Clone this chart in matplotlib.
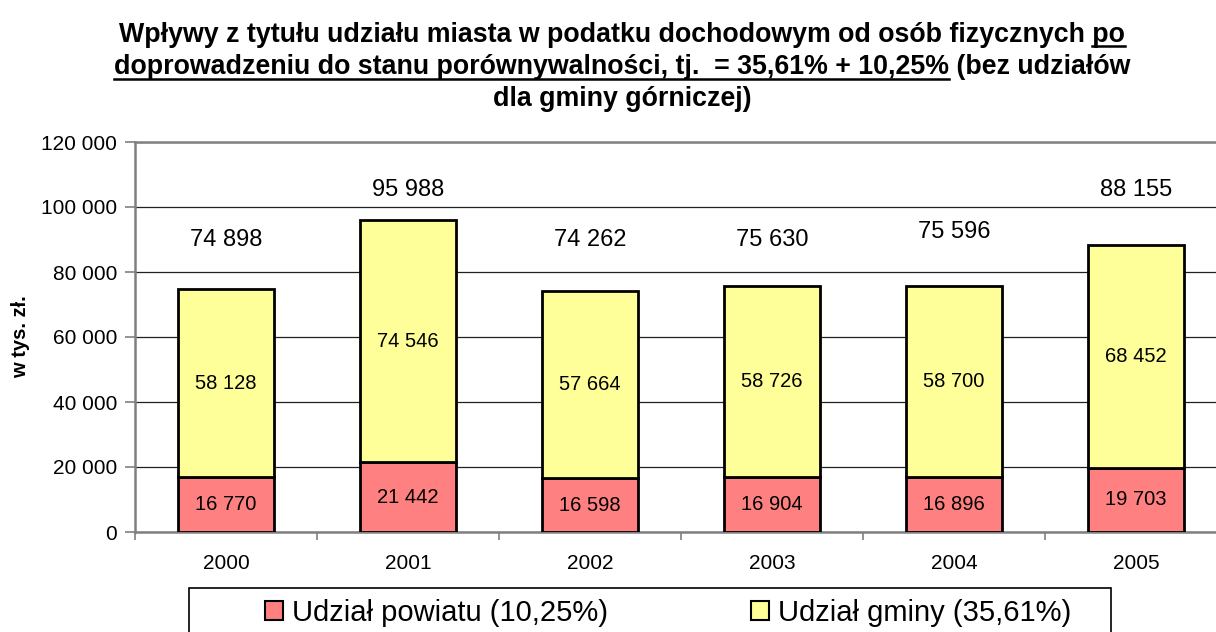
import matplotlib
matplotlib.use("Agg")
import matplotlib.pyplot as plt
from matplotlib.lines import Line2D
from matplotlib.patches import Rectangle, Patch
import numpy as np

plt.rcParams['font.family'] = ['Liberation Sans', 'DejaVu Sans']

years = ['2000', '2001', '2002', '2003', '2004', '2005']
powiat = [16770, 21442, 16598, 16904, 16896, 19703]
gmina = [58128, 74546, 57664, 58726, 58700, 68452]
totals = [74898, 95988, 74262, 75630, 75596, 88155]
# vertical placement of the total labels (data units), as in the original
total_label_y = [89800, 105300, 89800, 89800, 92300, 105300]

label_powiat = 'Udział powiatu (10,25%)'
label_gmina = 'Udział gminy (35,61%)'

title_lines = [
    [("Wpływy z tytułu udziału miasta w podatku dochodowym od osób fizycznych ", False), ("po", True)],
    [("doprowadzeniu do stanu porównywalności, tj.  = 35,61% + 10,25%", True), (" (bez udziałów", False)],
    [("dla gminy górniczej)", False)],
]

def fmt(v):
    return f"{v:,}".replace(",", " ")

W, H = 1216, 632
fig = plt.figure(figsize=(W / 100, H / 100), dpi=100)
ax = fig.add_axes([135 / W, 1 - 532 / H, (1227 - 135) / W, (532 - 142) / H])

x = np.arange(len(years))
bw = 0.53
c_pow = '#FF8080'
c_gm = '#FFFF99'
ax.bar(x, powiat, bw, color=c_pow, edgecolor='black', linewidth=2, zorder=3)
ax.bar(x, gmina, bw, bottom=powiat, color=c_gm, edgecolor='black', linewidth=2, zorder=3)

for i in range(len(years)):
    ax.text(x[i], powiat[i] / 2, fmt(powiat[i]), ha='center', va='center', fontsize=14.5, zorder=4)
    ax.text(x[i], powiat[i] + gmina[i] / 2, fmt(gmina[i]), ha='center', va='center', fontsize=14.5, zorder=4)
    ax.text(x[i], total_label_y[i], fmt(totals[i]), ha='center', va='center', fontsize=17, zorder=4)

ax.set_xlim(-0.5, len(years) - 0.5)
ax.set_ylim(0, 120000)
yt = np.arange(0, 120001, 20000)
ax.set_yticks(yt)
ax.set_yticklabels([fmt(v) for v in yt], fontsize=15)
ax.set_xticks(x)
ax.set_xticklabels(years, fontsize=15)
ax.set_xticks(np.arange(-0.5, len(years) + 0.5, 1), minor=True)
ax.tick_params(axis='x', which='major', length=0, pad=16)
ax.tick_params(axis='x', which='minor', length=6, width=1.2, color='#808080', direction='out')
ax.tick_params(axis='y', length=7, width=1.2, color='#808080', pad=6)

ax.yaxis.grid(True, color='#202020', linewidth=0.9, zorder=0)
ax.set_axisbelow(True)
for s in ['left', 'bottom', 'top']:
    ax.spines[s].set_color('#808080')
    ax.spines[s].set_linewidth(1.8)
ax.spines['right'].set_visible(False)

fig.text(21 / W, 1 - 337 / H, 'w tys. zł.', rotation=90, ha='center', va='center',
         fontsize=14.5, fontweight='bold')

# Legend box (partly cut at figure bottom)
fig.patches.append(Rectangle((189 / W, 0 - 0.05), (1111 - 189) / W, (H - 588) / H + 0.05,
                             transform=fig.transFigure, facecolor='white', edgecolor='black',
                             linewidth=1.2, zorder=1))
handles = [Patch(facecolor=c_pow, edgecolor='black', linewidth=1.5),
           Patch(facecolor=c_gm, edgecolor='black', linewidth=1.5)]
fig.legend(handles, [label_powiat, label_gmina], loc='center left', ncol=2,
           bbox_to_anchor=(265 / W, 1 - 613 / H), frameon=False, fontsize=21,
           handlelength=0.62, handleheight=0.62, handletextpad=0.3,
           columnspacing=4.9, borderpad=0, borderaxespad=0)

# Title with partial underline
renderer = fig.canvas.get_renderer()
cx = 622 / W
baselines = [42, 74.5, 106.5]
tfs = 19.3

def width_px(s):
    t = fig.text(0, 0, s, fontsize=tfs, fontweight='bold')
    bb = t.get_window_extent(renderer)
    t.remove()
    return bb.width

for li, segs in enumerate(title_lines):
    full = ''.join(s for s, _ in segs)
    yb = 1 - baselines[li] / H
    t = fig.text(cx, yb, full, ha='center', va='baseline', fontsize=tfs, fontweight='bold')
    bb = t.get_window_extent(renderer)
    left, right = bb.x0, bb.x1
    pos = 0
    for s, ul in segs:
        if ul:
            if pos == 0:
                x0 = left
                x1 = left + width_px(s)
            else:
                x1 = right
                x0 = right - width_px(s)
            yu = (H - baselines[li] - 4) / H
            fig.add_artist(Line2D([x0 / W, x1 / W], [yu, yu], transform=fig.transFigure,
                                  color='black', linewidth=1.8))
        pos += len(s)

fig.savefig('out.png', dpi=100)
